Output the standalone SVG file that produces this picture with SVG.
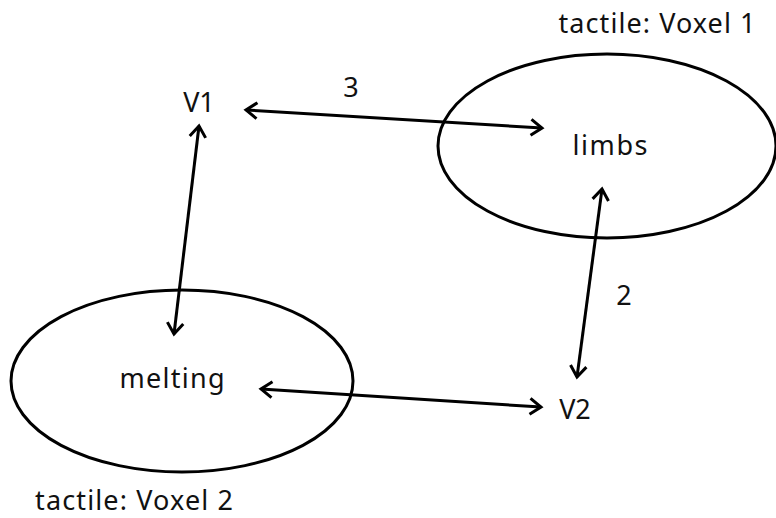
<svg xmlns="http://www.w3.org/2000/svg" width="776" height="518" viewBox="0 0 776 518">
<defs>
<style>
.n{fill:none;stroke:#000;stroke-width:3}
.t{font-family:"Noto Sans","Open Sans",sans-serif;font-size:27px;fill:#111;text-anchor:middle}
.c{fill:none;stroke:#000;stroke-width:3;marker-start:url(#a);marker-end:url(#a)}
</style>
<marker id="a" viewBox="0 0 20 20" refX="16" refY="10" markerWidth="20" markerHeight="20" markerUnits="userSpaceOnUse" orient="auto-start-reverse">
<path d="M5 2 L16 10 L5 18" fill="none" stroke="#000" stroke-width="3"/>
</marker>
</defs>
<rect width="776" height="518" fill="#fff"/>
<g id="limbs">
<ellipse class="n" cx="607" cy="146" rx="169" ry="92"/>
<text class="t" x="610" y="155" textLength="75">limbs</text>
</g>
<g id="voxel1"><text class="t" x="657" y="33" textLength="197">tactile: Voxel 1</text></g>
<g id="melting">
<ellipse class="n" cx="182" cy="381" rx="171" ry="91"/>
<text class="t" x="172" y="388" textLength="105">melting</text>
</g>
<g id="voxel2"><text class="t" x="134" y="510" textLength="198">tactile: Voxel 2</text></g>
<g id="V1"><text class="t" x="199" y="112">V1</text></g>
<g id="V2"><text class="t" x="575" y="419">V2</text></g>
<g id="connectors">
<line class="c" x1="246" y1="110" x2="542" y2="128"/>
<line class="c" x1="199" y1="126" x2="174" y2="334"/>
<line class="c" x1="602" y1="189" x2="577" y2="377"/>
<line class="c" x1="261" y1="389" x2="541" y2="407"/>
<text class="t" x="351" y="97">3</text>
<text class="t" x="624" y="305">2</text>
</g>
</svg>
